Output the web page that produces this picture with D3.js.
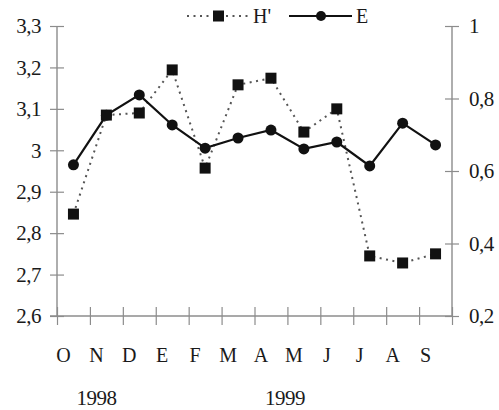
<!DOCTYPE html>
<html>
<head>
<meta charset="utf-8">
<script src="https://cdn.jsdelivr.net/npm/d3@7"></script>
<style>
  html, body { margin: 0; padding: 0; background: #fff; }
  svg { display: block; }
  text { font-family: "Liberation Serif", "Times New Roman", serif; fill: #1a1a1a; }
</style>
</head>
<body>
<svg id="chart" width="499" height="410"></svg>
<script>
// Monthly diversity (H') and evenness (E), Oct 1998 - Sep 1999
const months = ["O", "N", "D", "E", "F", "M", "A", "M", "J", "J", "A", "S"];
const monthKeys = months.map((m, i) => i);
const years = [{ label: "1998", at: 1, shift: -10 }, { label: "1999", at: 6, shift: 14 }];

const hValues = [2.846, 3.085, 3.090, 3.194, 2.957, 3.158, 3.174, 3.044, 3.100, 2.745, 2.728, 2.750];
const eValues = [0.617, 0.754, 0.810, 0.727, 0.663, 0.691, 0.713, 0.661, 0.680, 0.614, 0.732, 0.672];

const leftTicks = [2.6, 2.7, 2.8, 2.9, 3.0, 3.1, 3.2, 3.3];
const rightTicks = [0.2, 0.4, 0.6, 0.8, 1.0];

const serif = "Liberation Serif, Times New Roman, serif";
const svg = d3.select("#chart");
const plot = { left: 57, right: 452, top: 26, bottom: 316 };
const axisColor = "#8c8c8c";

const x = d3.scaleBand().domain(monthKeys).range([plot.left, plot.right]);
const xEdge = d3.scaleLinear().domain([0, months.length]).range([plot.left, plot.right]);
const yL = d3.scaleLinear().domain([2.6, 3.3]).range([plot.bottom, plot.top]);
const yR = d3.scaleLinear().domain([0.2, 1.0]).range([plot.bottom, plot.top]);
const cx = i => x(i) + x.bandwidth() / 2;

const fmtComma = d => (Number.isInteger(d) ? String(d) : d3.format(".1f")(d).replace(".", ","));

// left axis
const gL = svg.append("g").attr("transform", `translate(${plot.left},0)`)
  .call(d3.axisLeft(yL).tickValues(leftTicks).tickSize(7).tickPadding(9).tickFormat(fmtComma));
gL.selectAll(".tick line").attr("x1", -7).attr("x2", 7);

// right axis
const gR = svg.append("g").attr("transform", `translate(${plot.right},0)`)
  .call(d3.axisRight(yR).tickValues(rightTicks).tickSize(7).tickPadding(10).tickFormat(fmtComma));
gR.selectAll(".tick line").attr("x1", -7).attr("x2", 7);

// bottom axis: tick marks on month boundaries
const gB = svg.append("g").attr("transform", `translate(0,${plot.bottom})`)
  .call(d3.axisBottom(xEdge).tickValues(d3.range(months.length + 1)).tickSize(8).tickFormat(""));
gB.selectAll(".tick line").attr("y1", -9).attr("y2", 9);
gB.select(".domain").attr("d", `M${plot.left - 7},0H${plot.right}`);

[gL, gR, gB].forEach(g => {
  g.attr("font-family", serif).attr("font-size", 21);
  g.selectAll(".domain").attr("stroke", axisColor).attr("stroke-width", 1.4);
  g.selectAll(".tick line").attr("stroke", axisColor).attr("stroke-width", 1.2);
  g.selectAll(".tick text").attr("fill", "#1a1a1a")
    .attr("font-family", serif).style("font-family", serif).attr("letter-spacing", -0.5);
});
gL.select(".domain").attr("d", `M0,${plot.top}V${plot.bottom}`);
gR.select(".domain").attr("d", `M0,${plot.top}V${plot.bottom}`);

// month labels
svg.append("g").selectAll("text").data(monthKeys).join("text")
  .attr("x", i => cx(i) - 10)
  .attr("y", 362)
  .attr("text-anchor", "middle")
  .attr("font-size", 20)
  .text(i => months[i]);

// year labels
svg.append("g").selectAll("text").data(years).join("text")
  .attr("x", d => cx(d.at) + d.shift)
  .attr("y", 405)
  .attr("text-anchor", "middle")
  .attr("font-size", 21)
  .attr("letter-spacing", -0.5)
  .text(d => d.label);

// H' series: dotted line with square markers (left axis)
const lineH = d3.line().x((d, i) => cx(i)).y(d => yL(d));
svg.append("path").datum(hValues)
  .attr("d", lineH)
  .attr("fill", "none")
  .attr("stroke", "#555")
  .attr("stroke-width", 2)
  .attr("stroke-dasharray", "2,4.5");

// E series: solid line with round markers (right axis)
const lineE = d3.line().x((d, i) => cx(i)).y(d => yR(d));
svg.append("path").datum(eValues)
  .attr("d", lineE)
  .attr("fill", "none")
  .attr("stroke", "#111")
  .attr("stroke-width", 2.2);

svg.append("g").selectAll("rect").data(hValues).join("rect")
  .attr("x", (d, i) => cx(i) - 5.5)
  .attr("y", d => yL(d) - 5.5)
  .attr("width", 11)
  .attr("height", 11)
  .attr("fill", "#111");

svg.append("g").selectAll("circle").data(eValues).join("circle")
  .attr("cx", (d, i) => cx(i))
  .attr("cy", d => yR(d))
  .attr("r", 5.5)
  .attr("fill", "#111");

// legend
const legend = svg.append("g").attr("transform", "translate(0,16)");
legend.append("line").attr("x1", 187).attr("x2", 250).attr("y1", 0).attr("y2", 0)
  .attr("stroke", "#555").attr("stroke-width", 2).attr("stroke-dasharray", "2,4.5");
legend.append("rect").attr("x", 213).attr("y", -5.5).attr("width", 11).attr("height", 11).attr("fill", "#111");
legend.append("text").attr("x", 262).attr("y", 7).attr("text-anchor", "middle").attr("font-size", 20).text("H'");
legend.append("line").attr("x1", 289).attr("x2", 352).attr("y1", 0).attr("y2", 0)
  .attr("stroke", "#111").attr("stroke-width", 2.2);
legend.append("circle").attr("cx", 321).attr("cy", 0).attr("r", 5).attr("fill", "#111");
legend.append("text").attr("x", 362).attr("y", 7).attr("text-anchor", "middle").attr("font-size", 20).text("E");
</script>
</body>
</html>
